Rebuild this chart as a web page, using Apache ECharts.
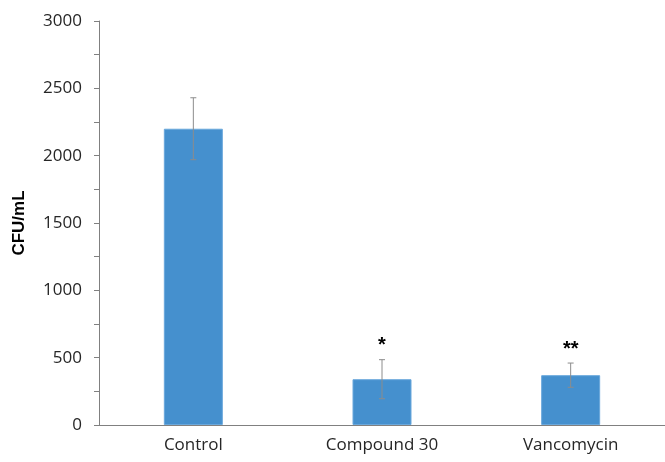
<!DOCTYPE html>
<html><head><meta charset="utf-8">
<script src="https://cdn.jsdelivr.net/npm/echarts@6/dist/echarts.min.js"></script>
<style>html,body{margin:0;padding:0;background:#fff}#c{width:665px;height:462px}</style>
</head><body><div id="c"></div>
<script>
const categories = ['Control', 'Compound 30', 'Vancomycin'];
const means = [2200, 340, 370];
const errors = [230, 145, 90];
const marks = ['', '*', '**'];
const yTicks = [0, 500, 1000, 1500, 2000, 2500, 3000];

const chart = echarts.init(document.getElementById('c'));
const font = '"Open Sans", Lato, sans-serif';
chart.setOption({
  animation: false,
  grid: {left: 99, right: 0, top: 21, bottom: 37},
  xAxis: {
    type: 'category', data: categories,
    axisLine: {lineStyle: {color: '#808080', width: 1}},
    axisTick: {show: false},
    axisLabel: {color: '#262626', fontSize: 17, fontFamily: font, margin: 12}
  },
  yAxis: {
    type: 'value', min: 0, max: 3000, interval: 250,
    name: 'CFU/mL', nameLocation: 'middle', nameGap: 71, nameRotate: 90,
    nameTextStyle: {color: '#000', fontSize: 17, fontWeight: 'bold', fontFamily: 'Liberation Sans, Arial, sans-serif'},
    axisLine: {show: true, lineStyle: {color: '#808080', width: 1}},
    axisTick: {show: true, inside: false, length: 5, lineStyle: {color: '#808080'}},
    splitLine: {show: false},
    axisLabel: {color: '#262626', fontSize: 17, fontFamily: font, margin: 17,
      formatter: v => yTicks.includes(v) ? String(v) : ''}
  },
  series: [
    {
      type: 'bar', data: means, barWidth: 59,
      itemStyle: {color: '#4590CE', borderColor: '#6aa8dc', borderWidth: 1}
    },
    {
      type: 'custom', z: 10,
      data: means.map((m, i) => [i, m - errors[i], m + errors[i], marks[i]]),
      renderItem: (params, api) => {
        const x = api.value(0);
        const lo = api.coord([x, api.value(1)]);
        const hi = api.coord([x, api.value(2)]);
        const cap = 3;
        const style = {stroke: '#8c8c8c', lineWidth: 1};
        const children = [
          {type: 'line', shape: {x1: hi[0], y1: hi[1], x2: lo[0], y2: lo[1]}, style},
          {type: 'line', shape: {x1: hi[0] - cap, y1: hi[1], x2: hi[0] + cap, y2: hi[1]}, style},
          {type: 'line', shape: {x1: lo[0] - cap, y1: lo[1], x2: lo[0] + cap, y2: lo[1]}, style}
        ];
        const mk = api.value(3);
        if (mk) {
          children.push({type: 'text', x: hi[0], y: hi[1] - 4,
            style: {text: mk, fill: '#000', font: 'bold 20px "Liberation Sans", Arial, sans-serif',
              align: 'center', verticalAlign: 'bottom'}});
        }
        return {type: 'group', children};
      }
    }
  ]
});
</script></body></html>
